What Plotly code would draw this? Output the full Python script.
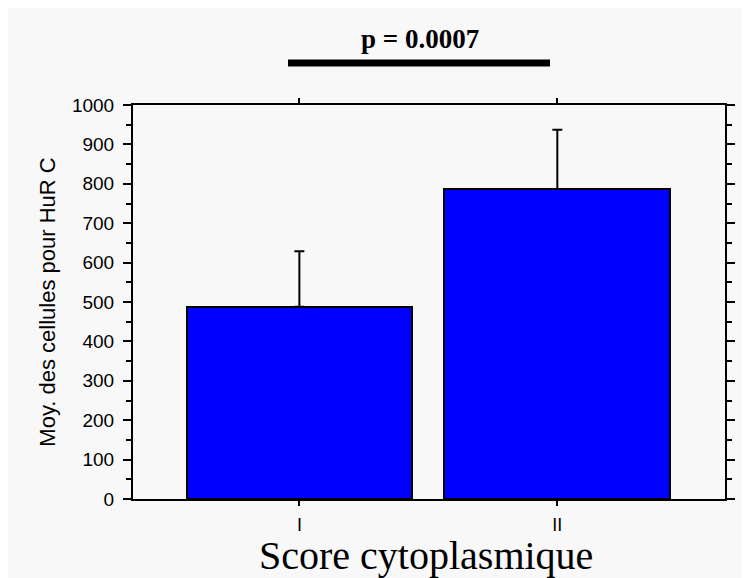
import plotly.graph_objects as go

categories = ["I", "II"]
means = [488, 787]
errors_up = [141, 150]
errors_down = [0, 0]
y_ticks = [0, 100, 200, 300, 400, 500, 600, 700, 800, 900, 1000]
p_text = "p = 0.0007"

fig = go.Figure()
fig.add_trace(go.Bar(
    x=categories,
    y=means,
    width=0.875,
    marker=dict(color="#0000FF", line=dict(color="black", width=2)),
    error_y=dict(type="data", symmetric=False, array=errors_up, arrayminus=errors_down,
                 color="black", thickness=2, width=5),
    showlegend=False,
))

bg = "#f8f8f8"
# page body has an 8px margin, so the figure is sized and placed to compensate
fig.update_layout(
    width=742, height=570,
    margin=dict(l=125, r=25, t=97, b=79),
    paper_bgcolor=bg, plot_bgcolor=bg,
    font=dict(family="Arial, Liberation Sans, sans-serif", color="black"),
    bargap=0,
)
fig.update_xaxes(
    range=[-0.645, 1.65],
    showline=True, linecolor="black", linewidth=2, mirror="ticks",
    ticks="outside", ticklen=5, tickwidth=1.5, tickcolor="black",
    tickfont=dict(size=18),
    ticklabelstandoff=3,
    showgrid=False, zeroline=False,
)
fig.update_yaxes(
    range=[0, 1000],
    tickvals=y_ticks,
    showline=True, linecolor="black", linewidth=2, mirror="ticks",
    ticks="outside", ticklen=8, tickwidth=2, tickcolor="black",
    minor=dict(dtick=50, ticks="outside", ticklen=5, tickwidth=1.5, tickcolor="black", showgrid=False),
    tickfont=dict(size=19),
    ticklabelstandoff=5,
    title=dict(text="Moy. des cellules pour HuR C", font=dict(size=22), standoff=10),
    showgrid=False, zeroline=False,
)

fig.add_shape(type="line", xref="paper", yref="paper",
              x0=(288 - 133) / 592, x1=(550 - 133) / 592,
              y0=1 + (105 - 63) / 394, y1=1 + (105 - 63) / 394,
              line=dict(color="black", width=7))
fig.add_annotation(text="<b>" + p_text + "</b>", xref="paper", yref="paper",
                   x=(420 - 133) / 592, y=1 + (105 - 39) / 394,
                   xanchor="center", yanchor="middle", showarrow=False,
                   font=dict(family="Liberation Serif, DejaVu Serif, serif", size=27, color="black"))
fig.add_annotation(text="Score cytoplasmique", xref="paper", yref="paper",
                   x=(426 - 133) / 592, y=-(555 - 499) / 394,
                   xanchor="center", yanchor="middle", showarrow=False,
                   font=dict(family="Liberation Serif, DejaVu Serif, serif", size=40, color="black"))

fig.write_html("out.html")
